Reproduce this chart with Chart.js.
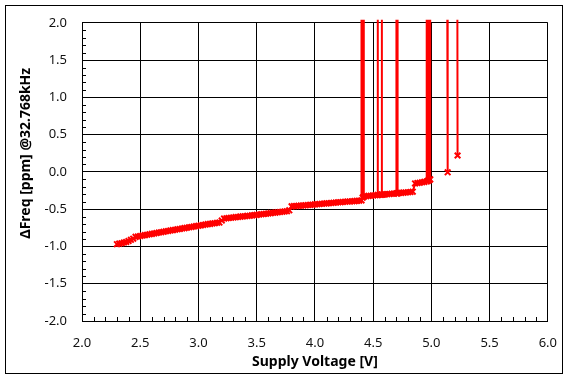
<!DOCTYPE html>
<html>
<head>
<meta charset="utf-8">
<script src="https://cdn.jsdelivr.net/npm/chart.js@4/dist/chart.umd.min.js"></script>
<style>
    body { margin: 0; background: #fff; }
</style>
</head>
<body>
<canvas id="freqChart" width="571" height="382"></canvas>
<script>
// Frequency deviation vs supply voltage (32.768kHz)
// values of 100 are off-scale readings (drawn as spikes)

const voltage = [
    2.30, 2.32, 2.34, 2.36, 2.38, 2.40, 2.42, 2.44, 2.46, 2.48,
    2.50, 2.52, 2.54, 2.56, 2.58, 2.60, 2.62, 2.64, 2.66, 2.68,
    2.70, 2.72, 2.74, 2.76, 2.78, 2.80, 2.82, 2.84, 2.86, 2.88,
    2.90, 2.92, 2.94, 2.96, 2.98, 3.00, 3.02, 3.04, 3.06, 3.08,
    3.10, 3.12, 3.14, 3.16, 3.18, 3.20, 3.22, 3.24, 3.26, 3.28,
    3.30, 3.32, 3.34, 3.36, 3.38, 3.40, 3.42, 3.44, 3.46, 3.48,
    3.50, 3.52, 3.54, 3.56, 3.58, 3.60, 3.62, 3.64, 3.66, 3.68,
    3.70, 3.72, 3.74, 3.76, 3.78, 3.80, 3.82, 3.84, 3.86, 3.88,
    3.90, 3.92, 3.94, 3.96, 3.98, 4.00, 4.02, 4.04, 4.06, 4.08,
    4.10, 4.12, 4.14, 4.16, 4.18, 4.20, 4.22, 4.24, 4.26, 4.28,
    4.30, 4.32, 4.34, 4.36, 4.38, 4.40, 4.40, 4.41, 4.41, 4.42,
    4.44, 4.46, 4.48, 4.50, 4.52, 4.54, 4.54, 4.54, 4.56, 4.575,
    4.575, 4.575, 4.59, 4.60, 4.62, 4.64, 4.66, 4.68, 4.70, 4.70,
    4.71, 4.71, 4.71, 4.72, 4.74, 4.76, 4.78, 4.80, 4.82, 4.84,
    4.86, 4.88, 4.90, 4.92, 4.94, 4.96, 4.96, 4.97, 4.97, 4.98,
    4.98, 4.99, 4.99, 5.14, 5.14, 5.225
];

const deltaFreq = [
    -0.970, -0.962, -0.956, -0.947, -0.940, -0.926, -0.911, -0.896, -0.872, -0.866,
    -0.860, -0.854, -0.848, -0.842, -0.837, -0.831, -0.826, -0.820, -0.814, -0.809,
    -0.803, -0.797, -0.792, -0.786, -0.781, -0.776, -0.770, -0.765, -0.759, -0.754,
    -0.749, -0.743, -0.738, -0.733, -0.727, -0.722, -0.717, -0.712, -0.706, -0.701,
    -0.697, -0.692, -0.688, -0.683, -0.679, -0.652, -0.626, -0.622, -0.618, -0.614,
    -0.611, -0.607, -0.604, -0.600, -0.597, -0.594, -0.590, -0.587, -0.583, -0.580,
    -0.576, -0.572, -0.568, -0.565, -0.561, -0.557, -0.553, -0.549, -0.546, -0.542,
    -0.538, -0.534, -0.531, -0.527, -0.515, -0.462, -0.459, -0.457, -0.455, -0.452,
    -0.450, -0.447, -0.445, -0.442, -0.440, -0.436, -0.433, -0.430, -0.428, -0.425,
    -0.422, -0.420, -0.417, -0.414, -0.411, -0.408, -0.406, -0.403, -0.400, -0.398,
    -0.396, -0.394, -0.392, -0.389, -0.386, -0.383, 100, -0.345, 100, -0.332,
    -0.326, -0.322, -0.319, -0.316, -0.313, -0.310, 100, -0.310, -0.307, -0.305,
    100, -0.305, -0.302, -0.301, -0.298, -0.296, -0.293, -0.291, -0.288, 100,
    -0.286, 100, -0.286, -0.284, -0.281, -0.278, -0.276, -0.273, -0.270, -0.266,
    -0.155, -0.150, -0.145, -0.140, -0.134, -0.128, 100, -0.120, 100, -0.110,
    100, -0.100, 100, -0.005, 100, 0.220
];

// axis ranges and titles
const xRange = [2.0, 6.0];
const yRange = [-2.0, 2.0];
const xTitle = 'Supply Voltage [V]';
const yTitle = 'ΔFreq [ppm] @32.768kHz';

const points = voltage.map((v, i) => ({ x: v, y: deltaFreq[i] }));

// outer frame, minor ticks on left/bottom axes, and the y axis title
// (the y title sits a bit above the middle of the plot, so it is drawn here)
const framePlugin = {
    id: 'frame',
    afterDraw(chart) {
        const ctx = chart.ctx;
        const xs = chart.scales.x;
        const ys = chart.scales.y;
        const area = chart.chartArea;

        ctx.save();
        ctx.strokeStyle = '#000';
        ctx.lineWidth = 1;
        ctx.beginPath();

        for (let i = 1; i < 40; i++) {
            if (i % 5 === 0) continue;
            const px = Math.round(xs.getPixelForValue(xRange[0] + i * 0.1)) + 0.5;
            ctx.moveTo(px, area.bottom);
            ctx.lineTo(px, area.bottom - 4);
            const py = Math.round(ys.getPixelForValue(yRange[0] + i * 0.1)) + 0.5;
            ctx.moveTo(area.left, py);
            ctx.lineTo(area.left + 4, py);
        }
        ctx.stroke();

        ctx.strokeRect(5.5, 5.5, 557, 368);

        // y axis title
        ctx.translate(26, ys.getPixelForValue(0.25));
        ctx.rotate(-Math.PI / 2);
        ctx.fillStyle = '#000';
        ctx.font = 'bold 14px "Noto Sans"';
        ctx.textAlign = 'center';
        ctx.textBaseline = 'middle';
        ctx.fillText(yTitle, 0, 0);
        ctx.restore();
    }
};

const ctx = document.getElementById('freqChart').getContext('2d');

new Chart(ctx, {
    type: 'scatter',
    data: {
        datasets: [{
            data: points,
            showLine: true,
            borderColor: '#ff0000',
            borderWidth: 2,
            pointStyle: 'crossRot',
            pointRadius: 4,
            pointBorderWidth: 2,
            pointBorderColor: '#ff0000',
            pointBackgroundColor: '#ff0000',
            clip: { left: 5, top: 3, right: 5, bottom: 5 }
        }]
    },
    plugins: [framePlugin],
    options: {
        responsive: false,
        animation: false,
        layout: {
            padding: { left: 0, top: 16, right: 21, bottom: 0 }
        },
        plugins: {
            legend: { display: false },
            tooltip: { enabled: false }
        },
        scales: {
            x: {
                type: 'linear',
                min: xRange[0],
                max: xRange[1],
                afterFit: (scale) => { scale.height = 61; },
                grid: { color: '#000', lineWidth: 1, drawTicks: false },
                border: { color: '#000', width: 1 },
                ticks: {
                    stepSize: 0.5,
                    padding: 14,
                    color: '#111',
                    font: { family: 'Noto Sans', size: 13 },
                    callback: (v) => v.toFixed(1)
                },
                title: {
                    display: true,
                    text: xTitle,
                    color: '#000',
                    font: { family: 'Noto Sans', size: 14, weight: 'bold' },
                    padding: { top: 0, bottom: 12 }
                }
            },
            y: {
                type: 'linear',
                min: yRange[0],
                max: yRange[1],
                afterFit: (scale) => { scale.width = 82; },
                grid: { color: '#000', lineWidth: 1, drawTicks: false },
                border: { color: '#000', width: 1 },
                ticks: {
                    stepSize: 0.5,
                    padding: 15,
                    color: '#111',
                    font: { family: 'Noto Sans', size: 13 },
                    callback: (v) => v.toFixed(1)
                }
            }
        }
    }
});
</script>
</body>
</html>
